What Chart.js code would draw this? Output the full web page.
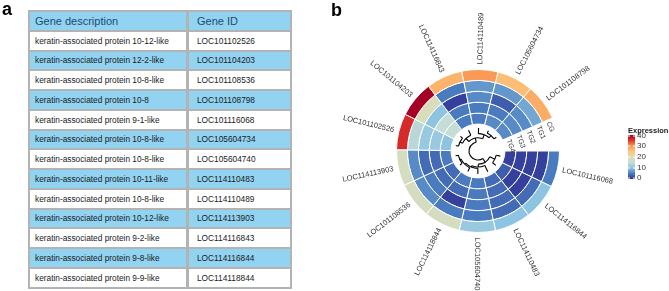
<!DOCTYPE html>
<html><head><meta charset="utf-8">
<script src="https://cdn.jsdelivr.net/npm/chart.js@4.4.1/dist/chart.umd.min.js"></script>
<style>
html,body{margin:0;padding:0;background:#fff;width:669px;height:291px;overflow:hidden;font-family:"Liberation Sans",Arial,sans-serif;}
#c{position:absolute;left:0;top:0;}
.panel{position:absolute;font-weight:bold;font-size:18px;line-height:1;color:#000;}
#tbl{position:absolute;left:28px;top:10px;width:264px;background:#b3b3b3;padding:2px;box-sizing:border-box;display:grid;grid-template-columns:156px 101px;column-gap:3px;row-gap:2px;}
#tbl div{height:17.75px;display:flex;align-items:center;font-size:8.3px;color:#1a1a1a;white-space:nowrap;background:#fff;padding-left:5px;box-sizing:border-box;}
#tbl div.id{padding-left:8px;}
#tbl div.b{background:#92d3f1;}
#tbl div.h{font-size:11px;color:#1f4a6e;}
</style></head>
<body>
<canvas id="c" width="669" height="291"></canvas>
<div class="panel" style="left:2px;top:0px;">a</div>
<div class="panel" style="left:331px;top:1px;">b</div>
<div id="tbl"></div>
<script>
// ---- table data ----
const tableHeader = ['Gene description', 'Gene ID'];
const geneDescriptions = [
  'keratin-associated protein 10-12-like','keratin-associated protein 12-2-like','keratin-associated protein 10-8-like',
  'keratin-associated protein 10-8','keratin-associated protein 9-1-like','keratin-associated protein 10-8-like',
  'keratin-associated protein 10-8-like','keratin-associated protein 10-11-like','keratin-associated protein 10-8-like',
  'keratin-associated protein 10-12-like','keratin-associated protein 9-2-like','keratin-associated protein 9-8-like',
  'keratin-associated protein 9-9-like'];
const tableGeneIds = ['LOC101102526','LOC101104203','LOC101108536','LOC101108798','LOC101116068','LOC105604734',
  'LOC105604740','LOC114110483','LOC114110489','LOC114113903','LOC114116843','LOC114116844','LOC114118844'];

// ---- circular heatmap data (clockwise from 3 o'clock) ----
const circleGenes = ['LOC101116068','LOC114116844','LOC114110483','LOC105604740','LOC114118844','LOC101108536',
  'LOC114113903','LOC101102526','LOC101104203','LOC114116843','LOC114110489','LOC105604734','LOC101108798'];
const groups = ['CG','TG1','TG2','TG3','TG4'];
const CG  = [5, 10, 10, 11, 18, 18, 18, 36, 40, 27, 30, 26, 28];
const TG1 = [1, 4, 4, 5, 5, 6, 6, 14, 19, 5, 7, 7, 8];
const TG2 = [1, 1, 4, 5, 1, 5, 4, 11, 10, 1, 6, 3, 6];
const TG3 = [1, 1, 4, 5, 4, 4, 4, 11, 15, 5, 5, 5, 6];
const TG4 = [1, 3, 4, 5, 5, 4, 5, 10, 15, 5, 5, 6, 6];
const legendTicks = [0, 10, 20, 30, 40];
// dendrogram: [height, left, right], leaves = index in circleGenes
const dendrogram = [10, [7, [3, 0, 1], [5, 2, [4, 3, [3, 4, [2, 5, 6]]]]],
                        [7, [4, [2, 7, 8], 9], [4, 10, [2, 11, 12]]]];

// ---- build table ----
const tbl = document.getElementById('tbl');
function cell(txt, cls){ const d=document.createElement('div'); d.className=cls; d.textContent=txt; tbl.appendChild(d); }
cell(tableHeader[0],'h b'); cell(tableHeader[1],'h b id');
geneDescriptions.forEach((g,i)=>{ const b = (i%2===1)?' b':''; cell(g, b); cell(tableGeneIds[i], 'id'+b); });

// ---- colour scale ----
const stops = [[0,[46,49,146]],[5,[74,123,191]],[10,[140,196,226]],[15,[198,220,214]],[20,[222,221,178]],
               [25,[252,198,124]],[30,[251,154,86]],[35,[224,53,43]],[40,[165,0,38]]];
function valueColor(v){
  v=Math.max(0,Math.min(40,v));
  for(let i=0;i<stops.length-1;i++){
    const [a,ca]=stops[i],[b,cb]=stops[i+1];
    if(v<=b){ const t=(v-a)/(b-a); const c=ca.map((x,k)=>Math.round(x+(cb[k]-x)*t)); return `rgb(${c[0]},${c[1]},${c[2]})`; }
  }
  return 'rgb(165,0,38)';
}
const series = [CG, TG1, TG2, TG3, TG4];
const FONT = '"Liberation Sans", Arial, sans-serif';

const ringPlugin = {
  id:'ringText',
  afterDatasetsDraw(chart){
    const c = chart.ctx;
    const n = chart.data.datasets.length;
    const outer = chart.getDatasetMeta(0).data;
    c.save();
    c.fillStyle = '#333';
    c.font = '7.5px ' + FONT;
    c.textBaseline = 'middle';
    outer.forEach((arc,i)=>{
      const a=(arc.startAngle+arc.endAngle)/2, r=arc.outerRadius+5;
      c.save();
      c.translate(arc.x+r*Math.cos(a), arc.y+r*Math.sin(a));
      if(Math.cos(a) < -0.05){ c.rotate(a+Math.PI); c.textAlign='right'; }
      else { c.rotate(a); c.textAlign='left'; }
      c.fillText(chart.data.labels[i],0,0);
      c.restore();
    });
    // track labels
    c.font = '7px ' + FONT;
    for(let d=0; d<n; d++){
      const arcs = chart.getDatasetMeta(d).data, last = arcs[arcs.length-1];
      const rm=(last.innerRadius+last.outerRadius)/2, a=last.endAngle+2/rm;
      c.save();
      c.translate(last.x+rm*Math.cos(a), last.y+rm*Math.sin(a));
      c.rotate(a+Math.PI/2);
      c.textAlign='left';
      c.fillText(chart.data.datasets[d].label,0,0);
      c.restore();
    }
    // dendrogram
    const inner = chart.getDatasetMeta(n-1).data;
    const cx=inner[0].x, cy=inner[0].y;
    const leafR = inner[0].innerRadius-4, rootR=9, maxH=dendrogram[0];
    const rad = h => leafR-(h/maxH)*(leafR-rootR);
    c.strokeStyle='#000'; c.lineWidth=1.1;
    function walk(node){
      if(typeof node==='number'){ const arc=inner[node]; return {a:(arc.startAngle+arc.endAngle)/2, r:leafR}; }
      const A=walk(node[1]), B=walk(node[2]), r=rad(node[0]);
      c.beginPath();
      [A,B].forEach(P=>{ c.moveTo(cx+r*Math.cos(P.a), cy+r*Math.sin(P.a)); c.lineTo(cx+P.r*Math.cos(P.a), cy+P.r*Math.sin(P.a)); });
      c.stroke();
      c.beginPath(); c.arc(cx,cy,r,A.a,B.a,false); c.stroke();
      return {a:(A.a+B.a)/2, r};
    }
    walk(dendrogram);
    // colour legend
    const lx=628, top=135, bot=179, w=7;
    const g=c.createLinearGradient(0,bot,0,top);
    stops.forEach(s=>g.addColorStop(s[0]/40, valueColor(s[0])));
    c.fillStyle=g; c.fillRect(lx,top,w,bot-top);
    c.fillStyle='#222'; c.font='bold 7.5px '+FONT; c.textAlign='left'; c.textBaseline='middle';
    c.fillText('Expression', lx, 131);
    c.font='8px '+FONT; 
    legendTicks.forEach(v=>{
      const y = bot-(v/40)*(bot-top);
      const yy = Math.min(bot-1, Math.max(top+1, y));
      c.strokeStyle='#fff'; c.lineWidth=1;
      c.beginPath(); c.moveTo(lx,yy); c.lineTo(lx+2,yy); c.moveTo(lx+w-2,yy); c.lineTo(lx+w,yy); c.stroke();
      c.fillStyle='#333'; c.fillText(String(v), lx+w+2, yy);
    });
    c.restore();
  }
};

new Chart(document.getElementById('c'), {
  type:'doughnut',
  data:{
    labels: circleGenes,
    datasets: groups.map((g,k)=>({
      label:g,
      data: circleGenes.map(()=>1),
      backgroundColor: series[k].map(valueColor),
      borderColor:'#fff', borderWidth:1
    }))
  },
  options:{
    responsive:false, animation:false, devicePixelRatio:1,
    rotation:90, circumference:336, cutout:'33%',
    layout:{padding:{left:396,right:109,top:69,bottom:58}},
    plugins:{legend:{display:false}, tooltip:{enabled:false}}
  },
  plugins:[ringPlugin]
});
</script>
</body></html>
